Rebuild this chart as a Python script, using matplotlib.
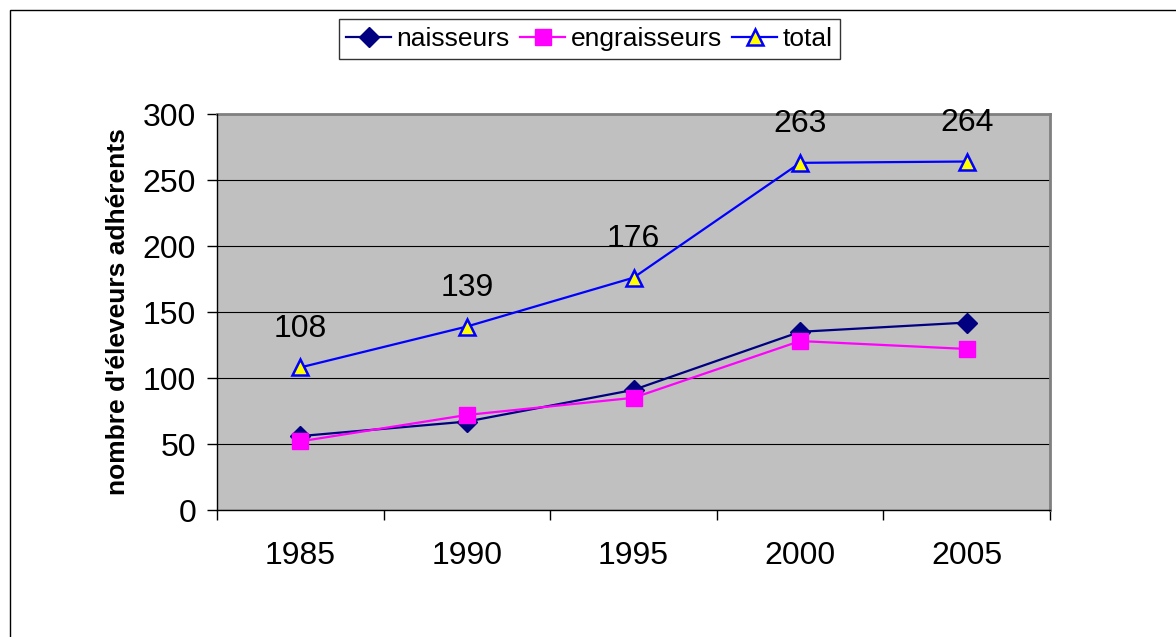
import matplotlib.pyplot as plt
from matplotlib.patches import Rectangle

plt.rcParams['font.family'] = ['Liberation Sans', 'DejaVu Sans']

years = ['1985', '1990', '1995', '2000', '2005']
naisseurs = [56, 67, 91, 135, 142]
engraisseurs = [52, 72, 85, 128, 122]
total = [108, 139, 176, 263, 264]

fig = plt.figure(figsize=(11.76, 6.37), dpi=100)
ax = fig.add_axes([217 / 1176, 1 - 510 / 637, 833 / 1176, 396 / 637])
ax.set_facecolor('#C0C0C0')

# outer chart frame (right and bottom edges fall outside the picture)
fig.patches.append(Rectangle((9.5 / 1176, -0.2), 1.5, 1.2 - 9.5 / 637,
                             transform=fig.transFigure, fill=False,
                             edgecolor='black', linewidth=1))

x = range(len(years))
ax.plot(x, naisseurs, color='#000080', lw=1.6, marker='D', markersize=10,
        label='naisseurs', zorder=3)
ax.plot(x, engraisseurs, color='#FF00FF', lw=1.6, marker='s', markersize=11,
        label='engraisseurs', zorder=3)
ax.plot(x, total, color='#0000FF', lw=1.6, marker='^', markersize=11,
        markerfacecolor='#FFFF00', markeredgecolor='#0000FF', markeredgewidth=1.8,
        label='total', zorder=3)

for i, v in enumerate(total):
    ax.annotate(str(v), (i, v), xytext=(0, 28), textcoords='offset points',
                ha='center', va='center', fontsize=23, annotation_clip=False)

ax.set_xlim(-0.5, len(years) - 0.5)
ax.set_ylim(0, 300)
ax.set_yticks(range(0, 301, 50))
ax.tick_params(axis='y', direction='out', length=7, width=1, labelsize=23, pad=8)
ax.set_xticks([i - 0.5 for i in range(len(years) + 1)])
ax.set_xticklabels([])
ax.set_xticks(list(x), minor=True)
ax.set_xticklabels(years, minor=True)
ax.tick_params(axis='x', which='major', direction='out', length=7, width=1)
ax.tick_params(axis='x', which='minor', length=0, labelsize=23, pad=22)
ax.yaxis.grid(True, color='black', lw=0.8)
ax.set_axisbelow(True)

for s in ('top', 'right'):
    ax.spines[s].set_color('#808080')
    ax.spines[s].set_linewidth(2)
for s in ('left', 'bottom'):
    ax.spines[s].set_color('black')
    ax.spines[s].set_linewidth(1)
    ax.spines[s].set_zorder(4)

ax.set_ylabel("nombre d'éleveurs adhérents", fontsize=19, fontweight='bold', labelpad=9)

leg = ax.legend(loc='center', bbox_to_anchor=(589.5 / 1176, 1 - 39 / 637),
                bbox_transform=fig.transFigure, ncol=3, fontsize=19,
                frameon=True, fancybox=False, edgecolor='black',
                handlelength=1.7, handletextpad=0.2, columnspacing=0.4,
                borderpad=0.3, borderaxespad=0)
leg.get_frame().set_linewidth(1)

fig.savefig('out.png', dpi=100)
